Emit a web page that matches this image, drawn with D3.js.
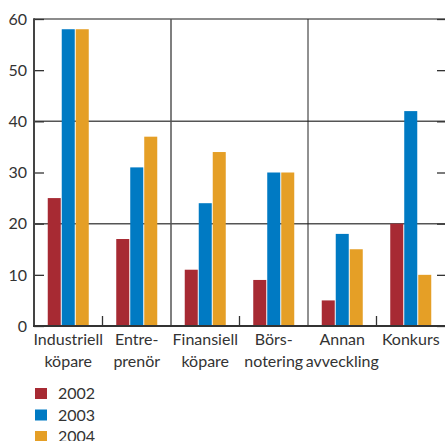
<!DOCTYPE html>
<html>
<head>
<meta charset="utf-8">
<script src="https://cdn.jsdelivr.net/npm/d3@7"></script>
<style>
  html, body { margin: 0; padding: 0; background: #fff; }
  svg { display: block; font-family: Lato, "Open Sans", sans-serif; }
</style>
</head>
<body>
<svg id="chart" width="445" height="441"></svg>
<script>
// Categories (multi-line labels) and yearly values
const categories = ["Industriell köpare", "Entreprenör", "Finansiell köpare", "Börsnotering", "Annan avveckling", "Konkurs"];
const categoryLines = [["Industriell", "köpare"], ["Entre-", "prenör"], ["Finansiell", "köpare"], ["Börs-", "notering"], ["Annan", "avveckling"], ["Konkurs"]];
const years = ["2002", "2003", "2004"];
const values2002 = [25, 17, 11, 9, 5, 20];
const values2003 = [58, 31, 24, 30, 18, 42];
const values2004 = [58, 37, 34, 30, 15, 10];
const yTicks = [0, 10, 20, 30, 40, 50, 60];
const gridValues = [20, 40];
const colors = ["#a72a33", "#007ac3", "#e59f26"];

const seriesValues = [values2002, values2003, values2004];

const svg = d3.select("#chart");
const plotLeft = 34, plotRight = 445, plotTop = 19, plotBottom = 326;

const x = d3.scaleBand().domain(categories).range([plotLeft, plotRight]).paddingInner(0).paddingOuter(0);
const groupW = 41;
const xs = d3.scaleBand().domain(years).range([0, groupW]).paddingInner(0.07);
const y = d3.scaleLinear().domain([0, 60]).range([plotBottom, plotTop]);
const color = d3.scaleOrdinal().domain(years).range(colors);

// Horizontal gridlines
svg.append("g").selectAll("line").data(gridValues).join("line")
  .attr("x1", plotLeft).attr("x2", plotRight)
  .attr("y1", d => y(d)).attr("y2", d => y(d))
  .attr("stroke", "#555").attr("stroke-width", 1.5);

// Top border
svg.append("line").attr("x1", plotLeft).attr("x2", plotRight)
  .attr("y1", y(60)).attr("y2", y(60))
  .attr("stroke", "#666").attr("stroke-width", 1.5);

// Vertical separators between pairs of categories
svg.append("line")
  .attr("x1", x(categories[2])).attr("x2", x(categories[2]))
  .attr("y1", y(60)).attr("y2", y(0))
  .attr("stroke", "#555").attr("stroke-width", 1.5);
svg.append("line")
  .attr("x1", x(categories[4])).attr("x2", x(categories[4]))
  .attr("y1", y(60)).attr("y2", y(0))
  .attr("stroke", "#222").attr("stroke-width", 1);

// Bars
const groups = svg.append("g").selectAll("g").data(categories).join("g")
  .attr("transform", d => `translate(${x(d) + (x.bandwidth() - groupW) / 2},0)`);
groups.selectAll("rect")
  .data((d, i) => years.map((yr, j) => ({ yr, v: seriesValues[j][i] })))
  .join("rect")
  .attr("x", d => xs(d.yr))
  .attr("width", xs.bandwidth())
  .attr("y", d => y(d.v))
  .attr("height", d => y(0) - y(d.v))
  .attr("fill", d => color(d.yr));

// Left axis with inward ticks
const yAxisL = svg.append("g").attr("transform", `translate(${plotLeft},0)`)
  .call(d3.axisRight(y).tickValues(yTicks).tickSize(10).tickFormat(""));
yAxisL.select(".domain").remove();
yAxisL.selectAll(".tick line").attr("stroke", "#333").attr("stroke-width", 1.3);
svg.append("line").attr("x1", plotLeft).attr("x2", plotLeft).attr("y1", y(60) - 0.7).attr("y2", y(0) + 1)
  .attr("stroke", "#444").attr("stroke-width", 2);

// Tick labels
svg.append("g").selectAll("text").data(yTicks).join("text")
  .attr("x", 27).attr("y", d => y(d)).attr("dy", "0.36em")
  .attr("text-anchor", "end").attr("font-size", 16).attr("fill", "#333")
  .text(d => d);

// Right axis ticks
const yAxisR = svg.append("g").attr("transform", `translate(${plotRight},0)`)
  .call(d3.axisLeft(y).tickValues(yTicks).tickSize(8).tickFormat(""));
yAxisR.select(".domain").remove();
yAxisR.selectAll(".tick line").attr("stroke", "#333").attr("stroke-width", 1.3);

// Baseline and small category ticks
svg.append("line").attr("x1", plotLeft - 1).attr("x2", plotRight)
  .attr("y1", y(0)).attr("y2", y(0))
  .attr("stroke", "#333").attr("stroke-width", 2);
svg.append("g").selectAll("line").data(categories.filter((d, i) => i % 2 === 1)).join("line")
  .attr("x1", d => x(d)).attr("x2", d => x(d))
  .attr("y1", y(0)).attr("y2", y(0) - 10)
  .attr("stroke", "#333").attr("stroke-width", 1.3);

// Category labels
const labels = svg.append("g").selectAll("text").data(categories).join("text")
  .attr("text-anchor", "middle").attr("font-size", 16).attr("fill", "#333")
  .attr("x", d => x(d) + x.bandwidth() / 2)
  .attr("y", 345);
labels.selectAll("tspan").data((d, i) => categoryLines[i]).join("tspan")
  .attr("x", function () { return this.parentNode.getAttribute("x"); })
  .attr("dy", (d, i) => i === 0 ? 0 : 21.5)
  .text(d => d);

// Legend
const legend = svg.append("g").selectAll("g").data(years).join("g")
  .attr("transform", (d, i) => `translate(35,${388 + i * 21.5})`);
legend.append("rect").attr("width", 12).attr("height", 11).attr("fill", d => color(d));
legend.append("text").attr("x", 23).attr("y", 11).attr("font-size", 16).attr("fill", "#333").text(d => d);
</script>
</body>
</html>
